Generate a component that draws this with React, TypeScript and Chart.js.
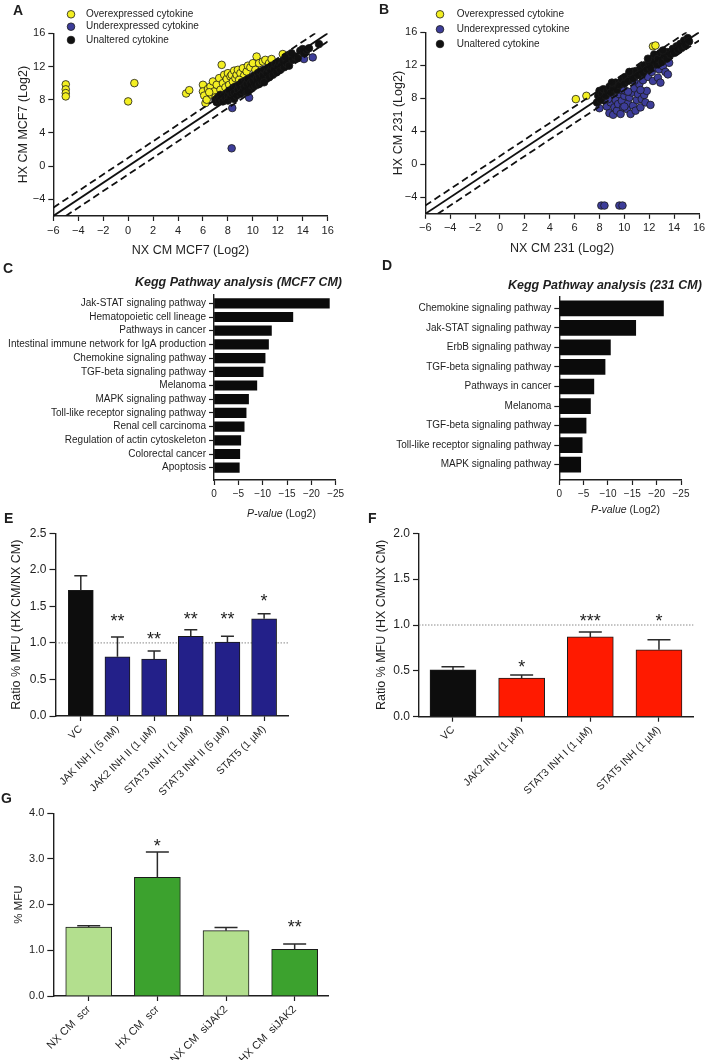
import React, { useEffect, useRef } from "react";
import { Chart, registerables } from "chart.js";
Chart.register(...registerables);

const FONT = '"Liberation Sans", Arial, Helvetica, sans-serif';
const INK = "#1e1e1e";

// ---------------- Panel A / B : scatter data (x = NX log2, y = HX log2) ----------------
const aOver: [number, number][] = [
  [-5, 9.85], [-5, 9.25], [-5, 8.8], [-5, 8.4], [0, 7.8], [0.5, 10], [4.65, 8.75], [4.9, 9.15],
  [6.0, 9.8], [6.0, 9.0], [6.1, 8.5], [6.2, 7.6], [6.3, 8.0], [6.4, 9.3], [6.6, 9.6], [6.7, 8.6],
  [6.8, 10.2], [6.9, 9.0], [7.0, 8.3], [7.1, 9.8], [7.3, 10.6], [7.4, 9.2], [7.5, 12.2], [7.6, 10.0],
  [7.7, 11.0], [7.8, 9.5], [7.9, 10.5], [8.0, 11.2], [8.1, 9.8], [8.2, 10.8], [8.3, 11.0], [8.4, 10.2],
  [8.5, 11.5], [8.6, 10.6], [8.7, 11.0], [8.8, 11.6], [9.0, 11.2], [9.2, 11.8], [9.3, 10.9], [9.5, 11.4],
  [9.6, 12.1], [9.8, 11.9], [10.0, 12.4], [10.2, 11.6], [10.3, 13.2], [10.5, 12.4], [10.8, 12.6],
  [11.0, 12.8], [11.3, 12.4], [11.5, 12.9], [12.4, 13.5], [7.2, 8.1], [6.5, 8.9], [8.9, 10.4],
];
const aUnder: [number, number][] = [
  [8.35, 7.0], [8.3, 2.15], [9.7, 8.25], [14.1, 12.9], [14.8, 13.1],
];
const aUnaltered: [number, number][] = [
  [7.0, 8.0], [7.1, 7.7], [7.2, 8.3], [7.3, 7.9], [7.4, 8.6], [7.5, 8.1], [7.6, 7.8], [7.7, 8.5],
  [7.8, 8.2], [7.9, 8.8], [8.0, 7.9], [8.0, 8.5], [8.1, 9.1], [8.2, 8.3], [8.3, 8.8], [8.4, 9.4],
  [8.5, 8.1], [8.5, 8.9], [8.6, 9.6], [8.7, 8.5], [8.8, 9.2], [8.9, 9.8], [9.0, 8.7], [9.0, 9.5],
  [9.1, 10.1], [9.2, 9.0], [9.3, 9.6], [9.4, 10.3], [9.5, 8.9], [9.5, 9.9], [9.6, 10.5], [9.7, 9.3],
  [9.8, 10.0], [9.9, 10.7], [10.0, 9.5], [10.0, 10.3], [10.1, 10.9], [10.2, 9.7], [10.3, 10.5],
  [10.4, 11.2], [10.5, 9.9], [10.5, 10.8], [10.6, 11.4], [10.7, 10.2], [10.8, 11.0], [10.9, 11.6],
  [11.0, 10.5], [11.1, 11.2], [11.2, 11.8], [11.3, 10.7], [11.4, 11.5], [11.5, 12.1], [11.6, 11.0],
  [11.7, 11.7], [11.8, 12.3], [11.9, 11.3], [12.0, 12.0], [12.1, 12.5], [12.2, 11.6], [12.3, 12.2],
  [12.4, 12.7], [12.5, 11.9], [12.7, 12.4], [12.9, 12.1], [13.0, 13.3], [13.2, 12.8], [13.4, 13.2],
  [13.6, 13.0], [13.8, 13.9], [14.0, 14.1], [14.1, 13.6], [14.3, 14.0], [14.5, 14.2], [15.3, 14.7],
  [9.6, 9.0], [10.9, 10.1], [12.6, 13.1], [13.1, 13.6],
];

const bOver: [number, number][] = [
  [6.1, 7.9], [6.95, 8.3], [12.3, 14.3], [12.5, 14.4],
];
const bUnder: [number, number][] = [
  [8.15, -5], [8.4, -5], [9.6, -5], [9.85, -5],
  [8.0, 6.8], [8.4, 7.8], [8.6, 7.0], [8.8, 6.2], [8.9, 7.5], [9.0, 8.2], [9.1, 6.0], [9.2, 6.9],
  [9.3, 7.8], [9.4, 6.5], [9.5, 7.3], [9.6, 8.5], [9.7, 6.1], [9.8, 7.7], [9.9, 6.9], [10.0, 8.3],
  [10.1, 8.9], [10.2, 6.7], [10.3, 7.4], [10.4, 8.1], [10.5, 6.1], [10.6, 8.7], [10.7, 7.1],
  [10.8, 9.2], [10.9, 6.5], [11.0, 7.8], [11.1, 8.5], [11.2, 9.7], [11.3, 6.9], [11.4, 7.9],
  [11.5, 10.2], [11.6, 8.4], [11.7, 7.5], [11.8, 8.9], [11.9, 10.6], [12.1, 7.2], [12.2, 11.2],
  [12.3, 10.1], [12.5, 11.7], [12.7, 10.5], [12.8, 11.5], [12.9, 9.9], [13.1, 11.9], [13.3, 11.2],
  [13.5, 10.9], [13.6, 12.3], [9.8, 9.0], [8.9, 8.5], [10.8, 10.1], [11.9, 11.6], [12.4, 12.2],
  [8.7, 7.9], [10.3, 8.8], [11.3, 9.0], [10.0, 7.0],
];
const bUnaltered: [number, number][] = [
  [7.8, 7.5], [7.9, 8.3], [8.0, 8.9], [8.1, 7.8], [8.2, 8.6], [8.3, 9.1], [8.5, 8.3], [8.6, 9.0],
  [8.8, 9.4], [8.9, 8.7], [9.1, 9.2], [9.3, 9.9], [9.4, 9.0], [9.6, 9.6], [9.8, 10.3], [10.0, 9.8],
  [10.1, 10.6], [10.3, 10.1], [10.5, 10.9], [10.7, 10.4], [10.9, 11.3], [11.1, 10.8], [11.3, 11.7],
  [11.5, 11.1], [11.6, 12.0], [11.8, 11.5], [12.0, 12.3], [12.1, 11.7], [12.3, 12.6], [12.4, 13.3],
  [12.6, 12.1], [12.7, 12.8], [12.9, 13.5], [13.0, 12.4], [13.2, 13.1], [13.4, 12.8], [13.5, 13.6],
  [13.7, 13.3], [13.9, 14.0], [14.0, 13.5], [14.2, 14.3], [14.3, 13.9], [14.5, 14.6], [14.6, 14.1],
  [14.8, 15.0], [14.9, 14.4], [15.1, 15.3], [15.2, 14.9], [9.0, 9.9], [10.4, 11.2], [11.9, 12.8],
  [13.1, 13.8],
];

const identityLine: [number, number][] = [[-6, -6], [16, 16]];
const upperLine: [number, number][] = [[-6, -5], [15, 16]];
const lowerLine: [number, number][] = [[-5, -6], [16, 15]];
const scatterYTicks = [-4, 0, 4, 8, 12, 16];
const legendLabels = ["Overexpressed cytokine", "Underexpressed cytokine", "Unaltered cytokine"];

// ---------------- Panel C / D : KEGG ----------------
const cCategories = [
  "Jak-STAT signaling pathway", "Hematopoietic cell lineage", "Pathways in cancer",
  "Intestinal immune network for IgA production", "Chemokine signaling pathway",
  "TGF-beta signaling pathway", "Melanoma", "MAPK signaling pathway",
  "Toll-like receptor signaling pathway", "Renal cell carcinoma",
  "Regulation of actin cytoskeleton", "Colorectal cancer", "Apoptosis",
];
const cValues = [-23.7, -16.2, -11.8, -11.2, -10.5, -10.1, -8.8, -7.1, -6.6, -6.2, -5.5, -5.3, -5.2];
const dCategories = [
  "Chemokine signaling pathway", "Jak-STAT signaling pathway", "ErbB signaling pathway",
  "TGF-beta signaling pathway", "Pathways in cancer", "Melanoma", "TGF-beta signaling pathway",
  "Toll-like receptor signaling pathway", "MAPK signaling pathway",
];
const dValues = [-21.4, -15.7, -10.5, -9.4, -7.1, -6.4, -5.5, -4.7, -4.4];
const keggTicks = [0, -5, -10, -15, -20, -25];

// ---------------- Panel E ----------------
const eLabels = ["VC", "JAK INH I (5 nM)", "JAK2 INH II (1 \u00b5M)", "STAT3 INH I (1 \u00b5M)", "STAT3 INH II (5 \u00b5M)", "STAT5 (1 \u00b5M)"];
const eValues = [1.72, 0.81, 0.78, 1.09, 1.01, 1.33];
const eErrors = [1.92, 1.08, 0.89, 1.18, 1.09, 1.4];
const eStars = ["", "**", "**", "**", "**", "*"];
const eStarLevels = [0, 1.36, 1.11, 1.38, 1.38, 1.63];
const eYTicks = [0, 0.5, 1, 1.5, 2, 2.5];

// ---------------- Panel F ----------------
const fLabels = ["VC", "JAK2 INH (1 \u00b5M)", "STAT3 INH I (1 \u00b5M)", "STAT5 INH (1 \u00b5M)"];
const fValues = [0.51, 0.42, 0.87, 0.73];
const fErrors = [0.545, 0.455, 0.925, 0.84];
const fStars = ["", "*", "***", "*"];
const fStarLevels = [0, 0.59, 1.09, 1.09];
const fYTicks = [0, 0.5, 1, 1.5, 2];

// ---------------- Panel G ----------------
const gLabels = ["NX CM  scr", "HX CM  scr", "NX CM  siJAK2", "HX CM  siJAK2"];
const gValues = [1.51, 2.6, 1.43, 1.02];
const gErrors = [1.54, 3.15, 1.5, 1.14];
const gStars = ["", "*", "", "**"];
const gStarLevels = [0, 3.37, 0, 1.6];
const gYTicks = [0, 1, 2, 3, 4];

// ---------------- helpers ----------------
type Frame = { x: number; y: number; w: number; h: number; yW: number; padT: number; padR: number; xH: number };
function frame(x: number, y: number, w: number, h: number, L: number, T: number, R: number, B: number): Frame {
  return { x, y, w, h, yW: L - x, padT: T - y, padR: x + w - R, xH: y + h - B };
}
const fmtMinus = (v: number) => (v < 0 ? "\u2212" + Math.abs(v) : String(v));
const base = (f: Frame) => ({
  responsive: false,
  animation: false,
  devicePixelRatio: 1,
  events: [],
  layout: { padding: { left: 0, top: f.padT, right: f.padR, bottom: 0 } },
});
const axisCommon = (tickLength: number) => ({
  grid: { display: true, drawOnChartArea: false, drawTicks: true, tickLength, tickColor: INK, tickWidth: 1.2, offset: false },
  border: { display: true, color: INK, width: 1.4 },
});

function scatterConfig(f: Frame, over: [number, number][], under: [number, number][], same: [number, number][], xTitle: string, yTitle: string, legend: { cx: number; tx: number; ys: number[] }) {
  const colors = ["#f3ef22", "#3d3d99", "#111111"];
  const pts = (arr: [number, number][], color: string, order: number) => ({
    data: arr.map(([x, y]) => ({ x, y })), backgroundColor: color, borderColor: "#1a1a1a",
    borderWidth: 0.8, pointRadius: 3.8, order,
  });
  const line = (arr: [number, number][], dash: number[]) => ({
    data: arr.map(([x, y]) => ({ x, y })), showLine: true, pointRadius: 0, borderColor: "#111",
    borderWidth: 1.8, borderDash: dash, order: 0,
  });
  const legendPlugin = {
    id: "customLegend",
    afterDraw(chart: any) {
      const ctx = chart.ctx;
      ctx.save();
      legendLabels.forEach((lab, i) => {
        const cy = legend.ys[i] - f.y;
        ctx.beginPath();
        ctx.arc(legend.cx - f.x, cy, 3.8, 0, Math.PI * 2);
        ctx.fillStyle = colors[i];
        ctx.fill();
        ctx.lineWidth = 0.8;
        ctx.strokeStyle = "#1a1a1a";
        ctx.stroke();
        ctx.font = `10px ${FONT}`;
        ctx.fillStyle = INK;
        ctx.textBaseline = "middle";
        ctx.textAlign = "left";
        ctx.fillText(lab, legend.tx - f.x, cy);
      });
      ctx.restore();
    },
  };
  return {
    type: "scatter",
    data: {
      datasets: [
        pts(over, colors[0], 3), pts(under, colors[1], 2), pts(same, colors[2], 1),
        line(identityLine, []), line(upperLine, [7, 4]), line(lowerLine, [7, 4]),
      ],
    },
    options: {
      ...base(f),
      plugins: { legend: { display: false }, tooltip: { enabled: false } },
      scales: {
        x: {
          type: "linear", min: -6, max: 16,
          ticks: { stepSize: 2, callback: fmtMinus, font: { family: FONT, size: 11 }, color: INK, padding: 3 },
          title: { display: true, text: xTitle, font: { family: FONT, size: 12.5 }, color: INK, padding: { top: 4, bottom: 4 } },
          ...axisCommon(5),
          afterFit: (s: any) => { s.height = f.xH; },
        },
        y: {
          type: "linear", min: -6, max: 16,
          afterBuildTicks: (s: any) => { s.ticks = scatterYTicks.map((v) => ({ value: v })); },
          ticks: { callback: fmtMinus, font: { family: FONT, size: 11 }, color: INK, padding: 3 },
          title: { display: true, text: yTitle, font: { family: FONT, size: 12.5 }, color: INK, padding: { top: 4, bottom: 4 } },
          ...axisCommon(5),
          afterFit: (s: any) => { s.width = f.yW; },
        },
      },
    },
    plugins: [legendPlugin],
  };
}

function keggConfig(f: Frame, cats: string[], vals: number[], barT: number, iMin: number, iMax: number) {
  return {
    type: "bar",
    data: { datasets: [{ data: vals.map((v, i) => ({ x: v, y: i })), backgroundColor: "#0b0b0b", borderWidth: 0, barThickness: barT }] },
    options: {
      ...base(f),
      indexAxis: "y",
      plugins: { legend: { display: false }, tooltip: { enabled: false } },
      scales: {
        y: {
          type: "linear", min: iMin, max: iMax, reverse: true, offset: false,
          afterBuildTicks: (s: any) => { s.ticks = cats.map((_, i) => ({ value: i })); },
          ticks: { autoSkip: false, callback: (v: number) => cats[v], font: { family: FONT, size: 10 }, color: INK, padding: 3 },
          ...axisCommon(5),
          afterFit: (s: any) => { s.width = f.yW; },
        },
        x: {
          type: "linear", min: -25, max: 0, reverse: true, offset: false,
          afterBuildTicks: (s: any) => { s.ticks = keggTicks.map((v) => ({ value: v })); },
          ticks: { autoSkip: false, callback: fmtMinus, font: { family: FONT, size: 10 }, color: INK, padding: 3 },
          ...axisCommon(5),
          afterFit: (s: any) => { s.height = f.xH; },
        },
      },
    },
  };
}

type BarSpec = {
  labels: string[]; values: number[]; errors: number[]; stars: string[]; starLevels: number[];
  colors: string[]; yTicks: number[]; xMin: number; xMax: number; barW: number; cap: number;
  title: string; titleSize: number; tickSize: number; labelSize: number; refLine: boolean;
};
function barConfig(f: Frame, p: BarSpec) {
  const STAR = 18;
  const deco = {
    id: "deco",
    beforeDatasetsDraw(chart: any) {
      if (!p.refLine) return;
      const { ctx, chartArea, scales } = chart;
      const y = scales.y.getPixelForValue(1);
      ctx.save();
      ctx.strokeStyle = "#8a8a8a";
      ctx.lineWidth = 1;
      ctx.setLineDash([1.5, 1.5]);
      ctx.beginPath();
      ctx.moveTo(chartArea.left, y);
      ctx.lineTo(chartArea.right, y);
      ctx.stroke();
      ctx.restore();
    },
    afterDatasetsDraw(chart: any) {
      const { ctx, scales } = chart;
      ctx.save();
      ctx.strokeStyle = "#2a2a2a";
      ctx.lineWidth = 1.5;
      p.values.forEach((v, i) => {
        const x = scales.x.getPixelForValue(i);
        const y0 = scales.y.getPixelForValue(v);
        const y1 = scales.y.getPixelForValue(p.errors[i]);
        ctx.beginPath();
        ctx.moveTo(x, y0);
        ctx.lineTo(x, y1);
        ctx.moveTo(x - p.cap, y1);
        ctx.lineTo(x + p.cap, y1);
        ctx.stroke();
        if (p.stars[i]) {
          const ys = scales.y.getPixelForValue(p.starLevels[i]);
          ctx.font = `${STAR}px ${FONT}`;
          ctx.fillStyle = INK;
          ctx.textAlign = "center";
          ctx.textBaseline = "alphabetic";
          ctx.fillText(p.stars[i], x, ys + 0.57 * STAR);
        }
      });
      ctx.restore();
    },
  };
  return {
    type: "bar",
    data: {
      datasets: [{
        data: p.values.map((v, i) => ({ x: i, y: v })), backgroundColor: p.colors,
        borderColor: "#1a1a1a", borderWidth: 1, barThickness: p.barW,
      }],
    },
    options: {
      ...base(f),
      plugins: { legend: { display: false }, tooltip: { enabled: false } },
      scales: {
        x: {
          type: "linear", min: p.xMin, max: p.xMax, offset: false,
          afterBuildTicks: (s: any) => { s.ticks = p.labels.map((_, i) => ({ value: i })); },
          ticks: {
            autoSkip: false, minRotation: 45, maxRotation: 45, callback: (v: number) => p.labels[v],
            font: { family: FONT, size: p.labelSize }, color: INK, padding: 2,
          },
          ...axisCommon(5),
          afterFit: (s: any) => { s.height = f.xH; },
        },
        y: {
          type: "linear", min: p.yTicks[0], max: p.yTicks[p.yTicks.length - 1],
          afterBuildTicks: (s: any) => { s.ticks = p.yTicks.map((v) => ({ value: v })); },
          ticks: { callback: (v: number) => v.toFixed(1), font: { family: FONT, size: p.tickSize }, color: INK, padding: 3 },
          title: { display: true, text: p.title, font: { family: FONT, size: p.titleSize }, color: INK, padding: { top: 4, bottom: 4 } },
          ...axisCommon(6),
          afterFit: (s: any) => { s.width = f.yW; },
        },
      },
    },
    plugins: [deco],
  };
}

// ---------------- frames ----------------
const FA = frame(12, 0, 328, 262, 53.3, 33.3, 327.7, 216);
const FB = frame(387, 0, 322, 260, 425.3, 32.3, 699, 213.8);
const FC = frame(0, 285, 348, 217, 214, 295, 335.7, 480);
const FD = frame(360, 285, 349, 217, 559.3, 297, 681, 480);
const FE = frame(5, 520, 295, 280, 55.5, 533.3, 288.3, 716);
const FF = frame(370, 520, 339, 280, 419, 533.3, 693.3, 716.7);
const FG = frame(8, 800, 337, 260, 53.3, 813.3, 328.3, 996);

function ChartCanvas({ f, make }: { f: Frame; make: () => any }) {
  const ref = useRef<HTMLCanvasElement>(null);
  useEffect(() => {
    const chart = new Chart(ref.current as HTMLCanvasElement, make());
    return () => chart.destroy();
  }, []);
  return (
    <canvas ref={ref} width={f.w} height={f.h}
      style={{ position: "absolute", left: f.x, top: f.y, width: f.w, height: f.h }} />
  );
}

function Txt({ x, y, size, bold, italic, children }: any) {
  return (
    <div style={{
      position: "absolute", left: x, top: y, fontFamily: FONT, fontSize: size, lineHeight: `${size}px`,
      fontWeight: bold ? "bold" : "normal", fontStyle: italic ? "italic" : "normal", color: INK, whiteSpace: "nowrap",
    }}>{children}</div>
  );
}

export default function App() {
  return (
    <div style={{ position: "absolute", left: 0, top: 0, width: 709, height: 1060, background: "#fff", overflow: "hidden" }}>
      <ChartCanvas f={FA} make={() => scatterConfig(FA, aOver, aUnder, aUnaltered, "NX CM MCF7 (Log2)", "HX CM MCF7 (Log2)", { cx: 71, tx: 86, ys: [14.3, 26.7, 40] })} />
      <ChartCanvas f={FB} make={() => scatterConfig(FB, bOver, bUnder, bUnaltered, "NX CM 231 (Log2)", "HX CM 231 (Log2)", { cx: 440, tx: 456.7, ys: [14.3, 29.3, 44] })} />
      <ChartCanvas f={FC} make={() => keggConfig(FC, cCategories, cValues, 9.5, (295 - 303.3) / 13.7, (480 - 303.3) / 13.7)} />
      <ChartCanvas f={FD} make={() => keggConfig(FD, dCategories, dValues, 15, (297 - 308.3) / 19.55, (480 - 308.3) / 19.55)} />
      <ChartCanvas f={FE} make={() => barConfig(FE, {
        labels: eLabels, values: eValues, errors: eErrors, stars: eStars, starLevels: eStarLevels,
        colors: ["#0d0d0d", "#232089", "#232089", "#232089", "#232089", "#232089"], yTicks: eYTicks,
        xMin: -0.69, xMax: 5.66, barW: 25, cap: 6.5, title: "Ratio % MFU (HX CM/NX CM)", titleSize: 12.5,
        tickSize: 12, labelSize: 10.5, refLine: true,
      })} />
      <ChartCanvas f={FF} make={() => barConfig(FF, {
        labels: fLabels, values: fValues, errors: fErrors, stars: fStars, starLevels: fStarLevels,
        colors: ["#0d0d0d", "#ff1a00", "#ff1a00", "#ff1a00"], yTicks: fYTicks,
        xMin: -0.495, xMax: 3.5, barW: 46, cap: 11.5, title: "Ratio % MFU (HX CM/NX CM)", titleSize: 12.5,
        tickSize: 12, labelSize: 10.5, refLine: true,
      })} />
      <ChartCanvas f={FG} make={() => barConfig(FG, {
        labels: gLabels, values: gValues, errors: gErrors, stars: gStars, starLevels: gStarLevels,
        colors: ["#b3df8e", "#3ca22e", "#b3df8e", "#3ca22e"], yTicks: gYTicks,
        xMin: -0.516, xMax: 3.49, barW: 46, cap: 11.5, title: "% MFU", titleSize: 11.5,
        tickSize: 11, labelSize: 11, refLine: false,
      })} />

      <Txt x={13} y={3} size={14} bold>A</Txt>
      <Txt x={379} y={2} size={14} bold>B</Txt>
      <Txt x={3} y={261} size={14} bold>C</Txt>
      <Txt x={382} y={258} size={14} bold>D</Txt>
      <Txt x={4} y={511} size={14} bold>E</Txt>
      <Txt x={368} y={511} size={14} bold>F</Txt>
      <Txt x={1} y={791} size={14} bold>G</Txt>

      <Txt x={135} y={276} size={12.5} bold italic>Kegg Pathway analysis (MCF7 CM)</Txt>
      <Txt x={508} y={279} size={12.5} bold italic>Kegg Pathway analysis (231 CM)</Txt>
      <Txt x={247} y={508} size={10.5}><i>P-value</i> (Log2)</Txt>
      <Txt x={591} y={504} size={10.5}><i>P-value</i> (Log2)</Txt>
    </div>
  );
}
